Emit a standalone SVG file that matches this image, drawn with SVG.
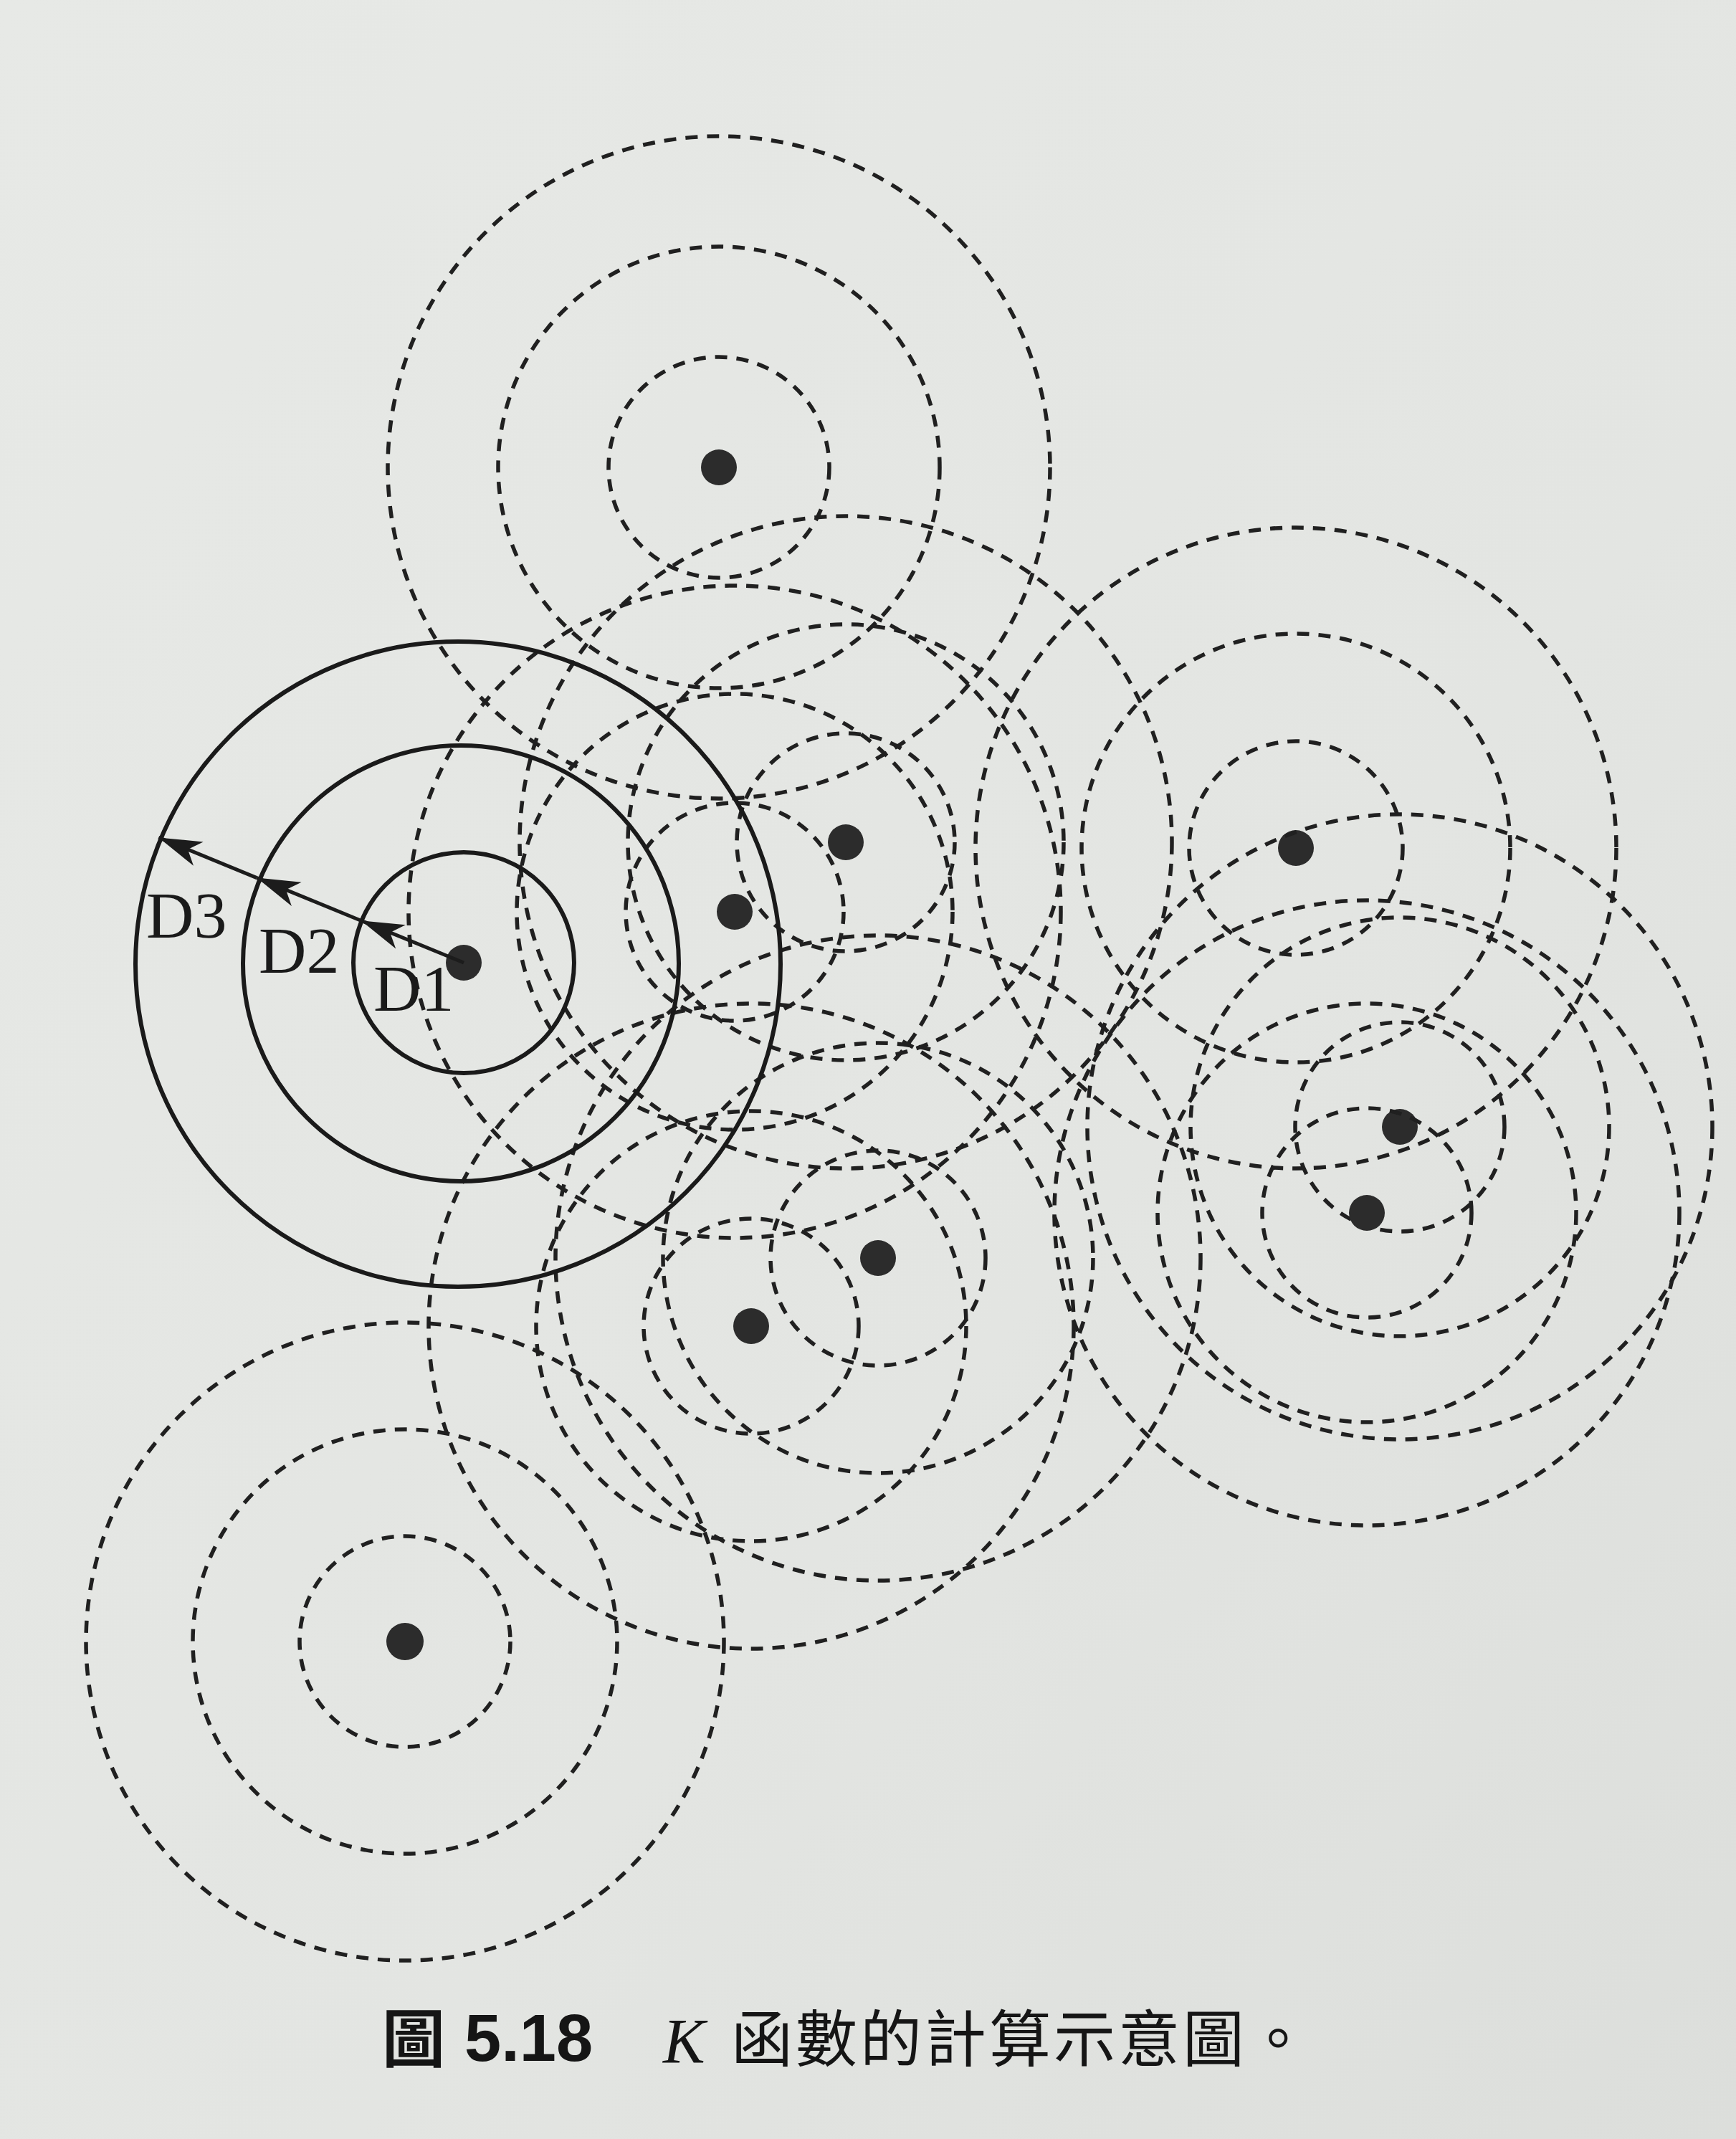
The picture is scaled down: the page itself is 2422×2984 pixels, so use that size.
<svg xmlns="http://www.w3.org/2000/svg" width="2422" height="2984" viewBox="0 0 2422 2984">
<defs>
<linearGradient id="bg" x1="0" y1="0" x2="1" y2="1">
<stop offset="0" stop-color="#e7e9e6"/>
<stop offset="0.6" stop-color="#e3e5e2"/>
<stop offset="1" stop-color="#dcdedb"/>
</linearGradient>
<marker id="ah" markerUnits="userSpaceOnUse" viewBox="-64 -22 68 44" markerWidth="68" markerHeight="44" refX="0" refY="0" orient="auto">
<path d="M0,0 L-60,-18 L-44,0 L-60,18 Z" fill="#1c1c1c"/>
</marker>
<style>
.d{fill:none;stroke:#202020;stroke-width:5.5;stroke-dasharray:17 13}
.s{fill:none;stroke:#1a1a1a;stroke-width:6}
.dot{fill:#2c2c2c}
.lbl{font-family:"Liberation Serif","Times New Roman",serif;font-size:92px;fill:#1a1a1a}
.cap{font-family:"Noto Sans CJK TC","Noto Sans CJK SC",sans-serif;font-size:86px;fill:#151515;letter-spacing:4px}
</style>
</defs>
<rect x="0" y="0" width="2422" height="2984" fill="url(#bg)"/>

<g id="p1">
<circle class="d" cx="1003" cy="652" r="154"/>
<circle class="d" cx="1003" cy="652" r="308"/>
<circle class="d" cx="1003" cy="652" r="462"/>
<circle class="dot" cx="1003" cy="652" r="25"/>
</g>
<g id="p2">
<circle class="d" cx="1180" cy="1175" r="152"/>
<circle class="d" cx="1180" cy="1175" r="304"/>
<circle class="d" cx="1180" cy="1175" r="455"/>
<circle class="dot" cx="1180" cy="1175" r="25"/>
</g>
<g id="p3">
<circle class="d" cx="1025" cy="1272" r="152"/>
<circle class="d" cx="1025" cy="1272" r="304"/>
<circle class="d" cx="1025" cy="1272" r="455"/>
<circle class="dot" cx="1025" cy="1272" r="25"/>
</g>
<g id="p5">
<circle class="d" cx="1808" cy="1183" r="149"/>
<circle class="d" cx="1808" cy="1183" r="299"/>
<circle class="d" cx="1808" cy="1183" r="447"/>
<circle class="dot" cx="1808" cy="1183" r="25"/>
</g>
<g id="p6">
<circle class="d" cx="1953" cy="1572" r="146"/>
<circle class="d" cx="1953" cy="1572" r="292"/>
<circle class="d" cx="1953" cy="1572" r="436"/>
<circle class="dot" cx="1953" cy="1572" r="25"/>
</g>
<g id="p7">
<circle class="d" cx="1907" cy="1692" r="146"/>
<circle class="d" cx="1907" cy="1692" r="292"/>
<circle class="d" cx="1907" cy="1692" r="436"/>
<circle class="dot" cx="1907" cy="1692" r="25"/>
</g>
<g id="p8">
<circle class="d" cx="1225" cy="1755" r="150"/>
<circle class="d" cx="1225" cy="1755" r="300"/>
<circle class="d" cx="1225" cy="1755" r="450"/>
<circle class="dot" cx="1225" cy="1755" r="25"/>
</g>
<g id="p9">
<circle class="d" cx="1048" cy="1850" r="150"/>
<circle class="d" cx="1048" cy="1850" r="300"/>
<circle class="d" cx="1048" cy="1850" r="450"/>
<circle class="dot" cx="1048" cy="1850" r="25"/>
</g>
<g id="p10">
<circle class="d" cx="565" cy="2290" r="147"/>
<circle class="d" cx="565" cy="2290" r="296"/>
<circle class="d" cx="565" cy="2290" r="445"/>
<circle class="dot" cx="565" cy="2290" r="26"/>
</g>
<g id="p4">
<circle class="s" cx="647" cy="1343" r="154"/>
<circle class="s" cx="643" cy="1344" r="304"/>
<circle class="s" cx="639" cy="1345" r="450"/>
<circle class="dot" cx="647" cy="1343" r="25"/>
</g>

<g id="connectors" stroke="#1c1c1c" stroke-width="5" fill="none">
<line x1="647" y1="1343" x2="503.5" y2="1284.2" marker-end="url(#ah)"/>
<line x1="503.5" y1="1284.2" x2="358.2" y2="1224.6" marker-end="url(#ah)"/>
<line x1="358.2" y1="1224.6" x2="221.3" y2="1168.4" marker-end="url(#ah)"/>
</g>

<g id="labels">
<text class="lbl" x="204" y="1308">D3</text>
<text class="lbl" x="361" y="1357">D2</text>
<text class="lbl" x="521" y="1410">D1</text>
</g>

<g id="caption">
<text x="533" y="2876" font-family="Noto Sans CJK TC, Noto Sans CJK SC, sans-serif" font-weight="700" font-size="88" fill="#151515">圖</text>
<text x="648" y="2875" font-family="Liberation Sans, Arial, sans-serif" font-weight="700" font-size="92" fill="#151515">5.18</text>
<text x="925" y="2877" font-family="Liberation Serif, Times New Roman, serif" font-style="italic" font-size="88" fill="#151515">K</text>
<text class="cap" x="1020" y="2876">函數的計算示意圖。</text>
</g>
</svg>
